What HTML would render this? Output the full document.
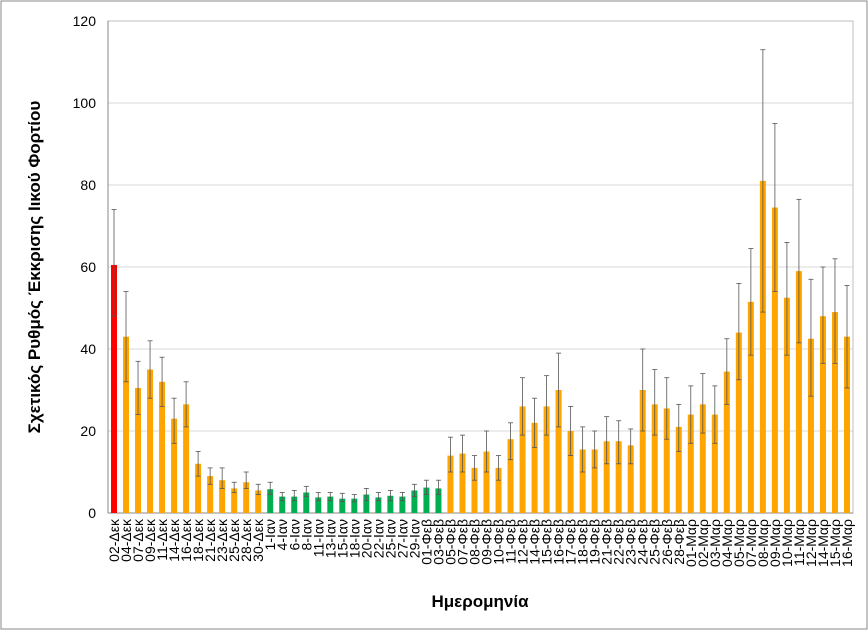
<!DOCTYPE html>
<html><head><meta charset="utf-8"><style>
body{margin:0;background:#fff;}
svg text{font-family:"Liberation Sans",sans-serif;}
</style></head><body>
<svg id="c" width="868" height="630" xmlns="http://www.w3.org/2000/svg"></svg>
<script>
const L="02-Δεκ,04-Δεκ,07-Δεκ,09-Δεκ,11-Δεκ,14-Δεκ,16-Δεκ,18-Δεκ,21-Δεκ,23-Δεκ,25-Δεκ,28-Δεκ,30-Δεκ,1-Ιαν,4-Ιαν,6-Ιαν,8-Ιαν,11-Ιαν,13-Ιαν,15-Ιαν,18-Ιαν,20-Ιαν,22-Ιαν,25-Ιαν,27-Ιαν,29-Ιαν,01-Φεβ,03-Φεβ,05-Φεβ,07-Φεβ,08-Φεβ,09-Φεβ,10-Φεβ,11-Φεβ,12-Φεβ,14-Φεβ,15-Φεβ,16-Φεβ,17-Φεβ,18-Φεβ,19-Φεβ,21-Φεβ,22-Φεβ,23-Φεβ,24-Φεβ,25-Φεβ,26-Φεβ,28-Φεβ,01-Μαρ,02-Μαρ,03-Μαρ,04-Μαρ,05-Μαρ,07-Μαρ,08-Μαρ,09-Μαρ,10-Μαρ,11-Μαρ,12-Μαρ,14-Μαρ,15-Μαρ,16-Μαρ".split(",");
const D=[[60.5,48,74],[43,32,54],[30.5,24,37],[35,28,42],[32,26,38],[23,17,28],[26.5,21,32],[12,9,15],[9,7,11],[8,6,11],[6,5,7.5],[7.5,6,10],[5.5,4.5,7],
[5.8,4.5,7.5],[4,3,5],[4,3,5.5],[5,4,6.5],[3.8,3,5],[4,3,5],[3.5,2.8,4.8],[3.5,2.7,4.5],[4.5,3,6],[3.8,3,5],[4.2,3,5.5],[4,3,5],[5.5,4,7],
[6.2,4.5,8],[6,4.5,8],[14,10,18.5],[14.5,10,19],[11,8,14],[15,10,20],[11,8,14],[18,13,22],[26,19,33],[22,16,28],[26,19,33.5],[30,21,39],[20,14,26],[15.5,10,21],[15.5,11,20],[17.5,12,23.5],[17.5,12,22.5],[16.5,12,20.5],[30,20,40],[26.5,19,35],[25.5,18,33],[21,15,26.5],
[24,17,31],[26.5,19.5,34],[24,17,31],[34.5,26.5,42.5],[44,32.5,56],[51.5,38.5,64.5],[81,49,113],[74.5,54,95],[52.5,38.5,66],[59,41.5,76.5],[42.5,28.5,57],[48,36.5,60],[49,36.5,62],[43,30.5,55.5]];
let s='<rect x="1" y="1" width="866" height="628" fill="#fff" stroke="#888"/>';
const y0=513,k=492/120,x0=108,x1=853,w=(x1-x0)/62;
for(let v=0;v<=120;v+=20){const y=y0-v*k;
 s+=`<line x1="${x0}" x2="${x1}" y1="${y}" y2="${y}" stroke="#d9d9d9"/>`;
 s+=`<text x="96" y="${y+5}" text-anchor="end" font-size="14">${v}</text>`;}
s+=`<rect x="${x0}" y="${y0-120*k}" width="${x1-x0}" height="${120*k}" fill="none" stroke="#bfbfbf"/>`;
s+=`<line x1="${x0}" x2="${x0}" y1="${y0-120*k}" y2="${y0}" stroke="#888"/><line x1="${x0}" x2="${x1}" y1="${y0}" y2="${y0}" stroke="#888"/>`;
D.forEach((d,i)=>{const cx=x0+w*(i+0.5);
 const col=i==0?"#ff0000":(i>=13&&i<=27)?"#00b050":"#ffa500";
 s+=`<rect x="${cx-3}" y="${y0-d[0]*k}" width="6" height="${d[0]*k}" fill="${col}"/>`;
 const a=y0-d[1]*k,b=y0-d[2]*k;
 s+=`<line x1="${cx}" x2="${cx}" y1="${a}" y2="${b}" stroke="#555" stroke-width="0.8"/>`;
 s+=`<line x1="${cx-2.5}" x2="${cx+2.5}" y1="${a}" y2="${a}" stroke="#555" stroke-width="0.8"/>`;
 s+=`<line x1="${cx-2.5}" x2="${cx+2.5}" y1="${b}" y2="${b}" stroke="#555" stroke-width="0.8"/>`;
 s+=`<text transform="translate(${cx+5},519) rotate(-90)" text-anchor="end" font-size="14">${L[i]}</text>`;
});
s+=`<text x="480" y="607" text-anchor="middle" font-size="17" font-weight="bold">Ημερομηνία</text>`;
s+=`<text transform="translate(40,267) rotate(-90)" text-anchor="middle" font-size="17" font-weight="bold">Σχετικός Ρυθμός Έκκρισης Ιικού Φορτίου</text>`;
document.getElementById("c").innerHTML=s;
</script>
</body></html>
